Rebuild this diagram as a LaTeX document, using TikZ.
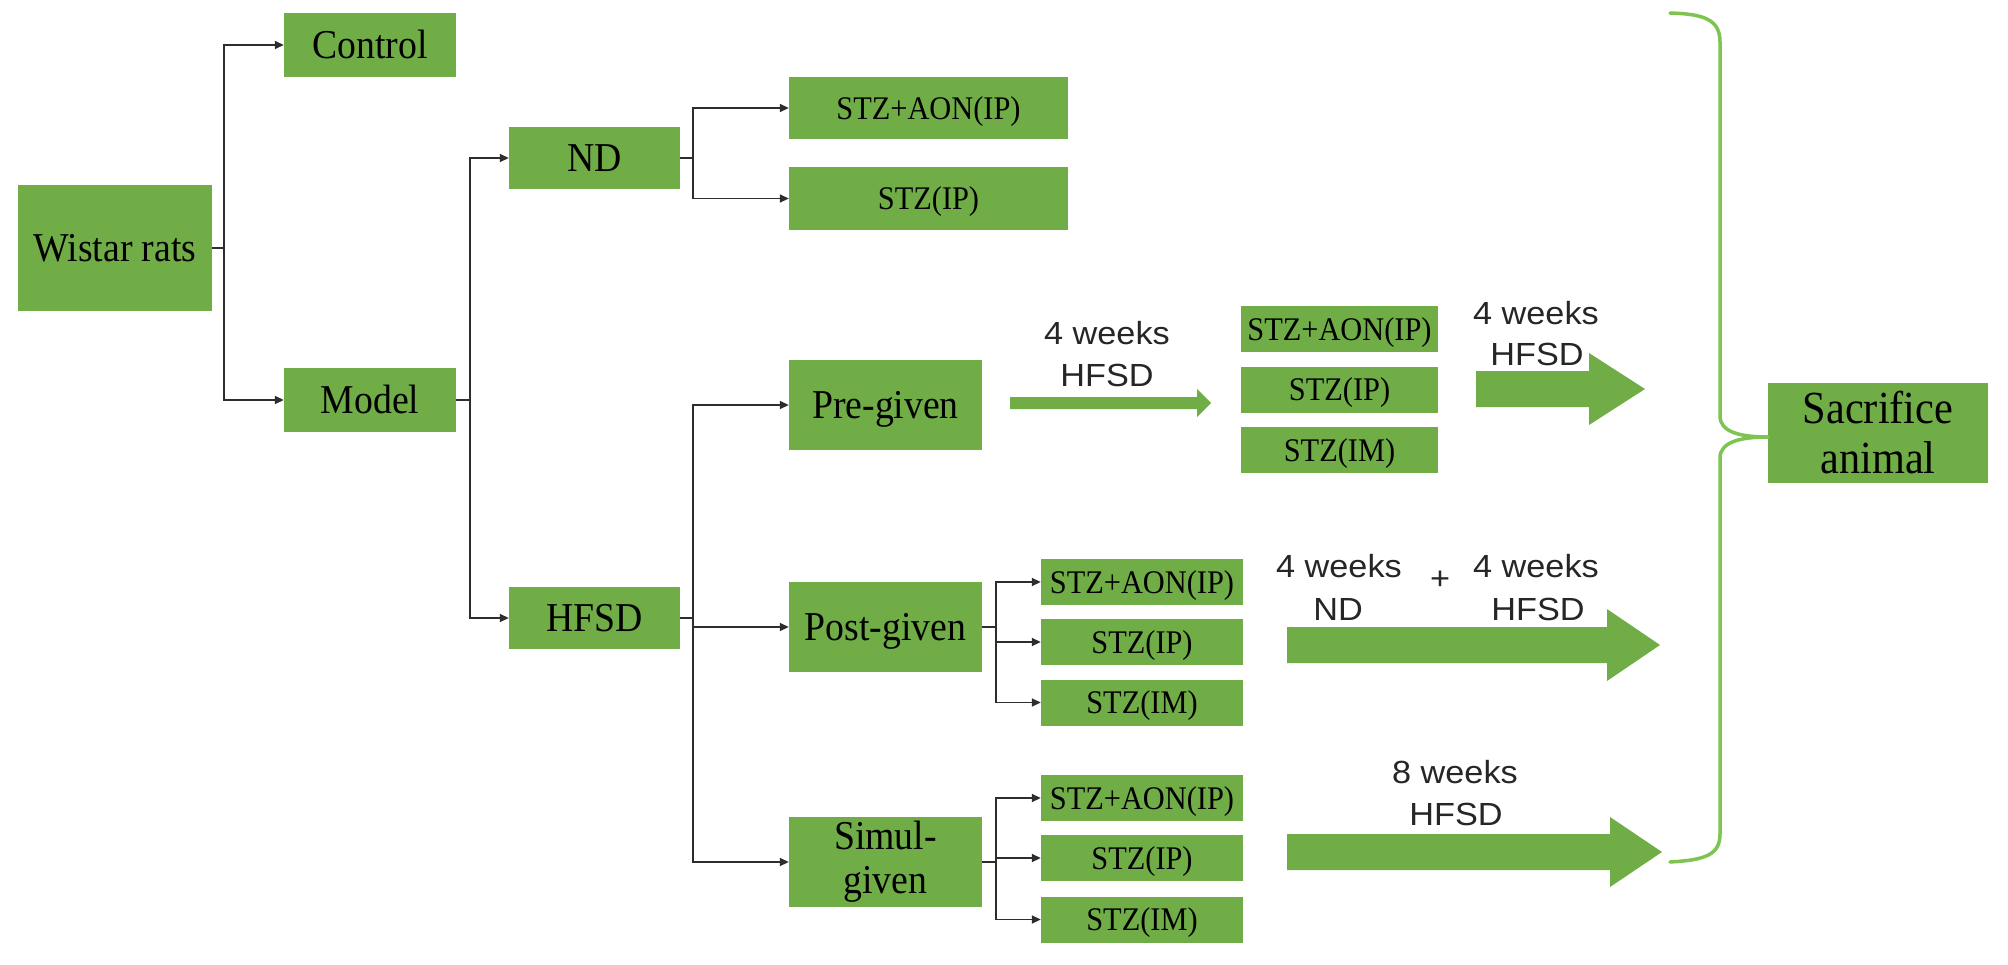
\documentclass[tikz,border=0pt]{standalone}
\usepackage{fontspec}
\setmainfont{Liberation Serif}
\newfontfamily\serifN{Liberation Serif}[FakeStretch=0.92]
\newfontfamily\sansW{Liberation Sans}[FakeStretch=1.07]
\usetikzlibrary{arrows.meta}
\definecolor{boxgreen}{RGB}{112,173,71}
\definecolor{bracegreen}{RGB}{125,196,80}
\definecolor{lineg}{RGB}{45,45,45}
\begin{document}
\begin{tikzpicture}[x=1pt,y=-1pt,
  box/.style={fill=boxgreen, inner sep=0pt, text=black, align=center},
  big/.style={box, font=\serifN\fontsize{41}{44}\selectfont, text height=27pt, text depth=0pt},
  bigm/.style={box, font=\serifN\fontsize{41}{44}\selectfont},
  small/.style={box, font=\serifN\fontsize{33}{36}\selectfont, text height=22pt, text depth=0pt, minimum height=46pt},
  conn/.style={draw=lineg, line width=1.6pt},
  arr/.style={conn, -{Triangle[length=9pt,width=8pt]}},
  lab/.style={font=\sansW\fontsize{32}{42}\selectfont, anchor=base, inner sep=0pt, text=black!85},
  bracestyle/.style={draw=bracegreen, line width=3.5pt, line cap=round, line join=round},
]
\fill[white] (0,0) rectangle (2008,964);
\useasboundingbox (0,0) rectangle (2008,964);

% boxes
\node[big, minimum width=194pt, minimum height=126pt] (wistar) at (115,248) {Wistar rats};
\node[big, minimum width=172pt, minimum height=64pt] (control) at (370,45) {Control};
\node[big, minimum width=172pt, minimum height=64pt] (model) at (370,400) {Model};
\node[big, minimum width=171pt, minimum height=62pt] (nd) at (594.5,158) {ND};
\node[big, minimum width=171pt, minimum height=62pt] (hfsd) at (594.5,618) {HFSD};
\node[small, minimum width=279pt, minimum height=62pt] (ndA) at (928.5,108) {STZ+AON(IP)};
\node[small, minimum width=279pt, minimum height=63pt] (ndB) at (928.5,198.5) {STZ(IP)};
\node[big, minimum width=193pt, minimum height=90pt] (pre) at (885.5,405) {Pre-given};
\node[big, minimum width=193pt, minimum height=90pt] (post) at (885.5,627) {Post-given};
\node[bigm, minimum width=193pt, minimum height=90pt] (simul) at (885.5,862) {Simul-\\given};

\node[small, minimum width=197pt] (preA) at (1339.5,329) {STZ+AON(IP)};
\node[small, minimum width=197pt] (preB) at (1339.5,389.5) {STZ(IP)};
\node[small, minimum width=197pt] (preC) at (1339.5,450) {STZ(IM)};

\node[small, minimum width=202pt] (postA) at (1142,582) {STZ+AON(IP)};
\node[small, minimum width=202pt] (postB) at (1142,642) {STZ(IP)};
\node[small, minimum width=202pt] (postC) at (1142,702.5) {STZ(IM)};

\node[small, minimum width=202pt] (simA) at (1142,798) {STZ+AON(IP)};
\node[small, minimum width=202pt] (simB) at (1142,858) {STZ(IP)};
\node[small, minimum width=202pt] (simC) at (1142,919.5) {STZ(IM)};

\node[box, font=\serifN\fontsize{46}{50}\selectfont, minimum width=220pt, minimum height=100pt] (sac) at (1878,433) {Sacrifice\\animal};

% connectors
\coordinate (jw) at (224,248);
\draw[conn] (wistar.east) -- (jw);
\draw[arr] (jw) |- (control.west);
\draw[arr] (jw) |- (model.west);

\coordinate (jm) at (470,400);
\draw[conn] (model.east) -- (jm);
\draw[arr] (jm) |- (nd.west);
\draw[arr] (jm) |- (hfsd.west);

\coordinate (jn) at (693,158);
\draw[conn] (nd.east) -- (jn);
\draw[arr] (jn) |- (ndA.west);
\draw[arr] (jn) |- (ndB.west);

\coordinate (jh) at (693,618);
\draw[conn] (hfsd.east) -- (jh);
\draw[arr] (jh) |- (pre.west);
\draw[arr] (jh) |- (post.west);
\draw[arr] (jh) |- (simul.west);

\coordinate (jp) at (996,627);
\draw[conn] (post.east) -- (jp);
\draw[arr] (jp) |- (postA.west);
\draw[arr] (jp) |- (postB.west);
\draw[arr] (jp) |- (postC.west);

\coordinate (js) at (996,862);
\draw[conn] (simul.east) -- (js);
\draw[arr] (js) |- (simA.west);
\draw[arr] (js) |- (simB.west);
\draw[arr] (js) |- (simC.west);

% green block arrows
\fill[boxgreen] (1010,397) -- (1197,397) -- (1197,389) -- (1211,403) -- (1197,417) -- (1197,409) -- (1010,409) -- cycle;
\fill[boxgreen] (1476,371) -- (1589,371) -- (1589,353) -- (1645,389) -- (1589,425) -- (1589,407) -- (1476,407) -- cycle;
\fill[boxgreen] (1287,627) -- (1607,627) -- (1607,609) -- (1660,645) -- (1607,681) -- (1607,663) -- (1287,663) -- cycle;
\fill[boxgreen] (1287,834) -- (1610,834) -- (1610,817) -- (1662,852) -- (1610,887) -- (1610,870) -- (1287,870) -- cycle;

% labels
\node[lab] (l1a) at (1107,344) {4 weeks};
\node[lab] (l1b) at (1107,386) {HFSD};
\node[lab] (l2a) at (1536,324) {4 weeks};
\node[lab] (l2b) at (1537,365) {HFSD};
\node[lab] (l3a) at (1339,577) {4 weeks};
\node[lab] (l3b) at (1338,620) {ND};
\node[font=\sansW\fontsize{32}{42}\selectfont, inner sep=0pt, text=black!85] (plus) at (1440,580) {+};
\node[lab] (l4a) at (1536,577) {4 weeks};
\node[lab] (l4b) at (1538,620) {HFSD};
\node[lab] (l5a) at (1455,783) {8 weeks};
\node[lab] (l5b) at (1456,825) {HFSD};

% brace
\coordinate (btip) at (1768,437);
\draw[bracestyle] (1670,13) .. controls (1705,14) and (1720,20) .. (1720,42)
  -- (1720,416) .. controls (1720,432) and (1740,437) .. (btip)
  .. controls (1740,437) and (1720,442) .. (1720,458)
  -- (1720,834) .. controls (1720,855) and (1705,860) .. (1670,862);
\end{tikzpicture}
\end{document}
